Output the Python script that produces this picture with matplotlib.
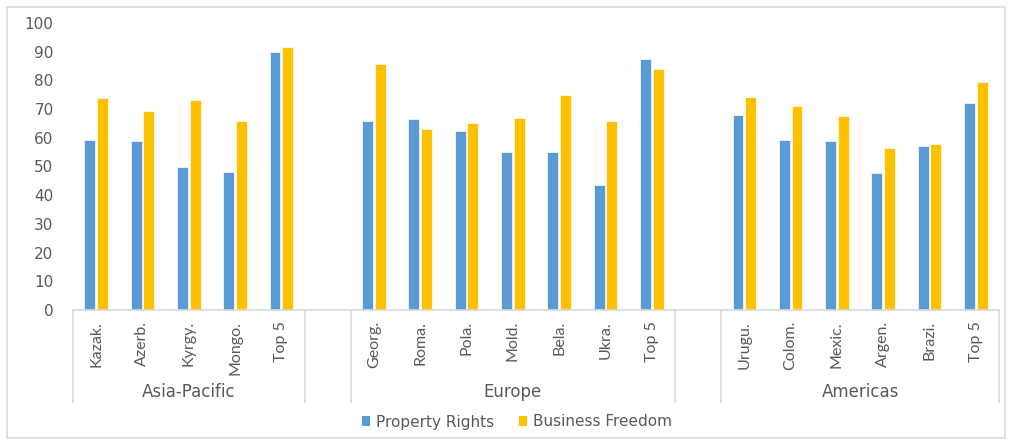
import matplotlib
matplotlib.use("Agg")
import matplotlib.pyplot as plt
from matplotlib.patches import Rectangle, Patch
import numpy as np

groups = ["Asia-Pacific", "Europe", "Americas"]
group_categories = [
    ["Kazak.", "Azerb.", "Kyrgy.", "Mongo.", "Top 5"],
    ["Georg.", "Roma.", "Pola.", "Mold.", "Bela.", "Ukra.", "Top 5"],
    ["Urugu.", "Colom.", "Mexic.", "Argen.", "Brazi.", "Top 5"],
]
property_rights = [
    [59.2, 59.0, 49.8, 48.0, 89.9],
    [65.8, 66.6, 62.2, 55.1, 55.1, 43.7, 87.6],
    [68.1, 59.1, 59.0, 47.6, 57.2, 72.1],
]
business_freedom = [
    [73.7, 69.3, 73.3, 65.8, 91.7],
    [85.7, 62.9, 65.2, 66.9, 74.8, 65.9, 84.1],
    [74.2, 71.2, 67.7, 56.3, 57.7, 79.3],
]
yticks = list(range(0, 101, 10))

BLUE = "#5B9BD5"
YELLOW = "#FFC000"
TEXT = "#595959"
LINE = "#D9D9D9"

W, H = 1009, 441
fig = plt.figure(figsize=(W / 100, H / 100), dpi=100)
ax = fig.add_axes([73 / W, 1 - 310 / H, (999 - 73) / W, (310 - 23) / H])

positions, labels, pr, bf = [], [], [], []
group_bounds = []
pos = 0
for gi, cats in enumerate(group_categories):
    start = pos
    for ci, c in enumerate(cats):
        positions.append(pos)
        labels.append(c)
        pr.append(property_rights[gi][ci])
        bf.append(business_freedom[gi][ci])
        pos += 1
    group_bounds.append((start - 0.5, pos - 0.5))
    pos += 1  # blank slot between groups
nslots = pos - 1

positions = np.array(positions)
bw = 0.235
off = 0.137
ax.bar(positions - off, pr, width=bw, color=BLUE, edgecolor="white", linewidth=0.5, label="Property Rights")
ax.bar(positions + off, bf, width=bw, color=YELLOW, edgecolor="white", linewidth=0.5, label="Business Freedom")

ax.set_xlim(-0.5, nslots - 0.5)
ax.set_ylim(0, 100)
ax.set_yticks(yticks)
ax.tick_params(axis="y", length=0, pad=14, labelsize=11, labelcolor=TEXT)
for t in ax.get_yticklabels():
    t.set_family("DejaVu Sans")

ax.set_xticks(positions)
ax.set_xticklabels(labels, rotation=90, fontsize=11.5, color=TEXT, family="Lato")
ax.tick_params(axis="x", length=0, pad=8)

for s in ["top", "right", "left"]:
    ax.spines[s].set_visible(False)
ax.spines["bottom"].set_color(LINE)
ax.spines["bottom"].set_linewidth(1.2)

trans = ax.get_xaxis_transform()
ybot = -(402 - 310) / (310 - 23)
edges = [-0.5]
for (a, b) in group_bounds:
    edges.append(b)
    if b + 1 <= nslots - 0.5:
        edges.append(b + 1)
for e in sorted(set(edges)):
    ax.plot([e, e], [0, ybot], transform=trans, color=LINE, lw=1.2, clip_on=False)

ygroup = -(392 - 310) / (310 - 23)
for g, (a, b) in zip(groups, group_bounds):
    ax.text((a + b) / 2, ygroup, g, transform=trans, ha="center", va="center",
            fontsize=12, color=TEXT, family="DejaVu Sans")

handles = [Patch(facecolor=BLUE, edgecolor="none"), Patch(facecolor=YELLOW, edgecolor="none")]
fig.legend(handles, ["Property Rights", "Business Freedom"], loc="center",
           bbox_to_anchor=(517 / W, 1 - 422 / H), ncol=2, frameon=False,
           handlelength=0.55, handleheight=0.55, handletextpad=0.4, columnspacing=1.6,
           prop={"family": "DejaVu Sans", "size": 11}, labelcolor=TEXT)

fig.patches.append(Rectangle((7 / W, 1 - 438 / H), (1005 - 7) / W, (438 - 7) / H,
                             transform=fig.transFigure, fill=False, edgecolor=LINE, lw=1.2))

fig.savefig("out.png", dpi=100)
